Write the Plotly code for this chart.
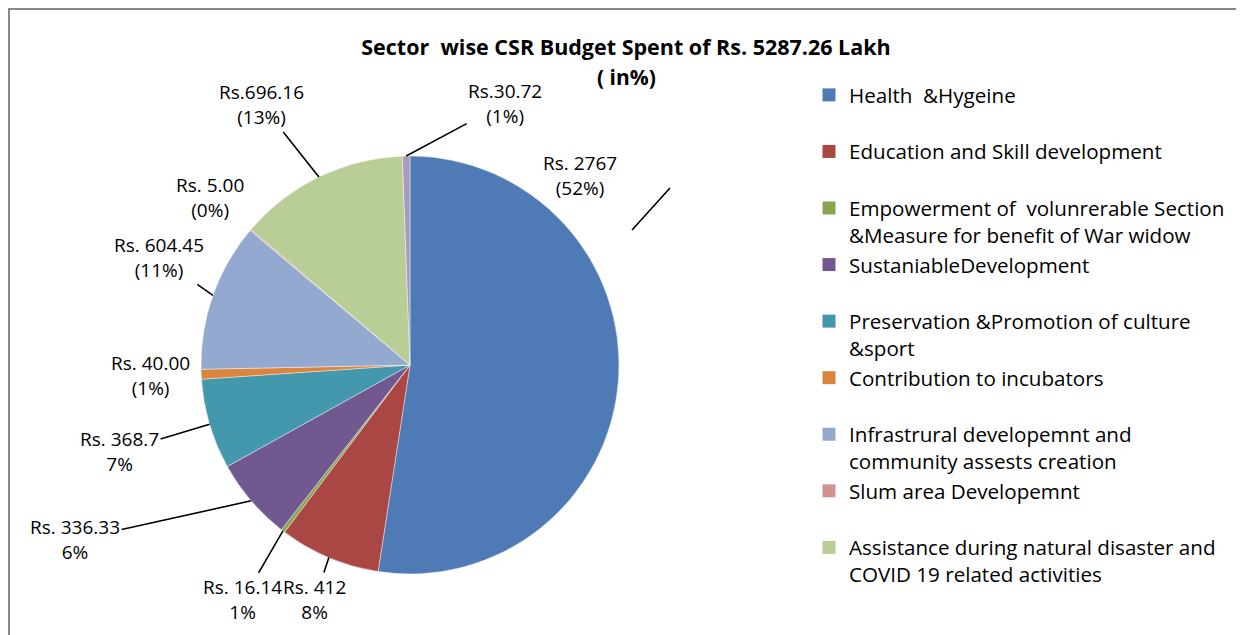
import math
import plotly.graph_objects as go

# ---------------- data ----------------
categories = [
    "Health  &Hygeine",
    "Education and Skill development",
    "Empowerment of  volunrerable Section<br>&Measure for benefit of War widow",
    "SustaniableDevelopment",
    "Preservation &Promotion of culture<br>&sport",
    "Contribution to incubators",
    "Infrastrural developemnt and<br>community assests creation",
    "Slum area Developemnt",
    "Assistance during natural disaster and<br>COVID 19 related activities",
    "Others",
]
values = [2767, 412, 16.14, 336.33, 368.7, 40.00, 604.45, 5.00, 696.16, 30.72]
value_labels = [
    "Rs. 2767<br>(52%)",
    "Rs. 412<br>8%",
    "Rs. 16.14<br>1%",
    "Rs. 336.33<br>6%",
    "Rs. 368.7<br>7%",
    "Rs. 40.00<br>(1%)",
    "Rs. 604.45<br>(11%)",
    "Rs. 5.00<br>(0%)",
    "Rs.696.16<br>(13%)",
    "Rs.30.72<br>(1%)",
]
in_legend = [True, True, True, True, True, True, True, True, True, False]
title_line1 = "Sector  wise CSR Budget Spent of Rs. 5287.26 Lakh"
title_line2 = "( in%)"

# ---------------- style ----------------
colors = ["#4E7BB5", "#AA4643", "#89A54E", "#71588F", "#4398AE",
          "#DB843D", "#93A9CF", "#D19392", "#B9CD96", "#A99BBD"]
label_offsets = [(-38, -206), (-14, 42), (-40, 69), (-176, 39), (-90, 27),
                 (-51, 1), (-54, -38), (-40, -32), (-57, -72), (99, -53)]
has_leader = [False, True, True, True, True, False, True, False, True, True]

FONT = "Open Sans, sans-serif"
W, H = 1236, 627            # page body adds an 8px margin
CX, CY, R = 402, 357, 209   # pie centre / radius in figure pixels

dom_x = [(CX - R) / W, (CX + R) / W]
dom_y = [(H - CY - R) / H, (H - CY + R) / H]

fig = go.Figure()
fig.add_trace(go.Pie(
    labels=categories, values=values, sort=False, direction="clockwise",
    rotation=0, textinfo="none", hoverinfo="label+value+percent",
    marker=dict(colors=colors, line=dict(color="rgba(255,255,255,0.6)", width=0.7)),
    domain=dict(x=dom_x, y=dom_y), showlegend=False,
))

# legend entries (only the named sectors)
for name, col, show in zip(categories, colors, in_legend):
    if not show:
        continue
    txt = name if "<br>" in name else name + "<br> "
    fig.add_trace(go.Scatter(
        x=[None], y=[None], mode="markers", name=txt,
        marker=dict(symbol="square", size=13, color=col),
        hoverinfo="skip",
    ))

# data labels with leader lines, anchored at slice mid-angles
total = sum(values)
cum = 0.0
annotations = []
for v, lab, (ox, oy), lead in zip(values, value_labels, label_offsets, has_leader):
    mid = (cum + v / 2) / total * 2 * math.pi
    cum += v
    px = CX + R * math.sin(mid)
    py = CY - R * math.cos(mid)
    xp, yp = px / W, 1 - py / H
    common = dict(x=xp, y=yp, xref="paper", yref="paper", text=lab,
                  font=dict(family=FONT, size=19, color="#000"), align="center")
    if lead:
        annotations.append(dict(
            **common, showarrow=True, ax=ox, ay=oy, axref="pixel", ayref="pixel",
            arrowhead=0, arrowwidth=1.6, arrowcolor="black", standoff=0,
        ))
    else:
        annotations.append(dict(
            **common, showarrow=False, xshift=ox, yshift=-oy,
            xanchor="center", yanchor="middle",
        ))

annotations.append(dict(
    x=618 / W, y=1 - 69 / H, xref="paper", yref="paper", showarrow=False,
    text="<b>" + title_line2 + "</b>", xanchor="center", yanchor="middle",
    font=dict(family=FONT, size=21, color="#000"),
))

fig.update_layout(
    width=W, height=H,
    margin=dict(l=0, r=0, t=0, b=0),
    paper_bgcolor="white", plot_bgcolor="white",
    font=dict(family=FONT, color="#000"),
    title=dict(
        text="<b>" + title_line1 + "</b>",
        x=618 / W, xanchor="center", y=1 - 39 / H, yanchor="middle",
        font=dict(family=FONT, size=21.5, color="#000"),
    ),
    xaxis=dict(visible=False), yaxis=dict(visible=False),
    legend=dict(
        x=801 / W, xanchor="left", y=1 - 67 / H, yanchor="top",
        font=dict(family=FONT, size=20.6, color="#000"),
        valign="top", bgcolor="rgba(0,0,0,0)",
    ),
    annotations=annotations,
    shapes=[
        dict(type="rect", xref="paper", yref="paper",
             x0=1 / W, x1=1.2, y0=-0.2, y1=1 - 1 / H,
             line=dict(color="#888888", width=2)),
        dict(type="line", xref="paper", yref="paper",
             x0=624 / W, y0=1 - 222 / H, x1=662 / W, y1=1 - 180 / H,
             line=dict(color="black", width=1.6)),
    ],
)

fig.write_html("out.html")
